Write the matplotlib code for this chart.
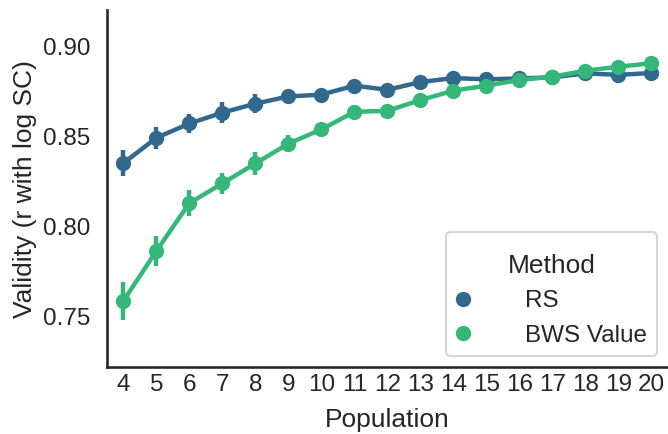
import numpy as np
import seaborn as sns
from matplotlib import pyplot as plt

# Population sizes on the x axis
population = [4, 5, 6, 7, 8, 9, 10, 11, 12, 13, 14, 15, 16, 17, 18, 19, 20]

# Mean validity per method
rs_mean = [0.835, 0.849, 0.857, 0.863, 0.868, 0.872, 0.873, 0.878, 0.8757, 0.880,
           0.8822, 0.8815, 0.882, 0.8826, 0.8848, 0.8840, 0.8850]
bws_mean = [0.7585, 0.7862, 0.8128, 0.8237, 0.8348, 0.8458, 0.8537, 0.8635, 0.8640, 0.8700,
            0.8752, 0.8780, 0.8811, 0.8830, 0.8863, 0.8885, 0.8904]

# Half-width of the confidence intervals
rs_err = [0.0072, 0.0060, 0.0055, 0.0058, 0.0052, 0.0035, 0.0030, 0.0025, 0.0025, 0.0020,
          0.0020, 0.0018, 0.0018, 0.0018, 0.0018, 0.0018, 0.0018]
bws_err = [0.0106, 0.0085, 0.0072, 0.0060, 0.0063, 0.0048, 0.0035, 0.0025, 0.0025, 0.0022,
           0.0022, 0.0020, 0.0018, 0.0018, 0.0018, 0.0018, 0.0018]

methods = ['RS', 'BWS Value']

sns.set_theme(style='white', context='talk')
plt.rcParams['font.family'] = ['Liberation Sans', 'DejaVu Sans']

colors = sns.color_palette('viridis', 2)

fig, ax = plt.subplots(figsize=(6.68, 4.34), dpi=100)
fig.subplots_adjust(left=0.160, right=1.0, top=0.977, bottom=0.154)

x = np.arange(len(population))
for mean, err, color, label in zip([rs_mean, bws_mean], [rs_err, bws_err], colors, methods):
    mean = np.array(mean)
    err = np.array(err)
    ax.vlines(x, mean - err, mean + err, color=color, lw=3.2, zorder=2)
    ax.plot(x, mean, color=color, lw=3.2, marker='o', markersize=10, label=label, zorder=3)

ax.set_xticks(x)
ax.set_xticklabels([str(p) for p in population])
ax.set_xlim(-0.5, len(population) - 0.5)
ax.set_ylim(0.7217, 0.92)
ax.set_yticks([0.75, 0.80, 0.85, 0.90])
ax.set_yticklabels(['0.75', '0.80', '0.85', '0.90'])
ax.set_xlabel('Population', fontsize=19, labelpad=8.5)
ax.set_ylabel('Validity (r with log SC)', fontsize=19)
ax.tick_params(axis='x', length=0, pad=5, labelsize=17.5)
ax.tick_params(axis='y', length=0, pad=12, labelsize=17.5)
sns.despine(ax=ax)

handles, labels = ax.get_legend_handles_labels()
leg = ax.legend(handles, labels, title='Method', loc='lower right', frameon=True,
                fontsize=17.5, title_fontsize=19, handlelength=0.6, handletextpad=2.25,
                borderaxespad=0.45)
for h in leg.legend_handles:
    h.set_linestyle('')
# a bit more room above the legend title, as in the original
leg.get_title().set_text('\nMethod')
leg.get_title().set_linespacing(0.4)

fig.savefig('out.png', dpi=100)
